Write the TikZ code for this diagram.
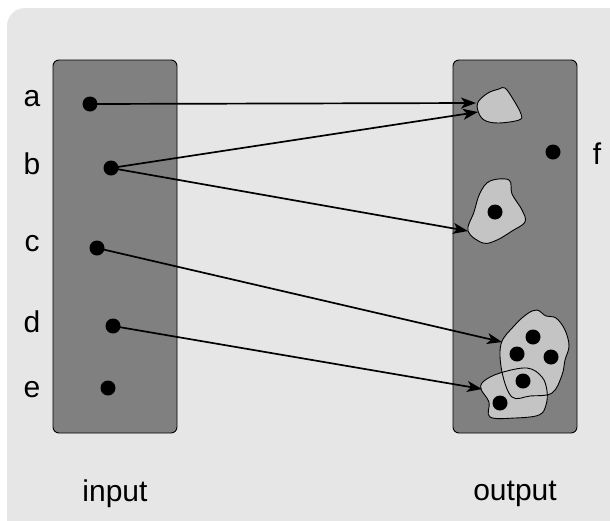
\documentclass[tikz,border=0pt]{standalone}
\usepackage{fontspec}
\setmainfont{Liberation Sans}
\usetikzlibrary{arrows.meta}
\definecolor{bgcol}{HTML}{E6E6E6}
\definecolor{setcol}{HTML}{808080}
\definecolor{blobcol}{HTML}{C4C4C4}
\begin{document}
\begin{tikzpicture}[x=1pt,y=-1pt,
  setbox/.style={draw=black,fill=setcol,rounded corners=6pt,line width=0.9pt},
  dotpt/.style={circle,fill=black,inner sep=0pt,minimum size=15pt},
  lbl/.style={font=\fontsize{30}{36}\selectfont,inner sep=0pt},
  conn/.style={line width=1.7pt,-{Stealth[length=15pt,width=11pt,inset=4pt]}},
  blobfill/.style={fill=blobcol},
  blobline/.style={draw=black,line width=0.9pt}]
\useasboundingbox (0,0) rectangle (610,520);
\fill[bgcol,rounded corners=18pt] (7,8) rectangle (640,560);
% set boxes
\draw[setbox] (53,60) rectangle (177,433);
\draw[setbox] (453,60) rectangle (577,433);
% blobs
\def\blobA{plot[smooth cycle,tension=0.6] coordinates {(478,102) (488,93) (499,89) (505,88) (513,99) (521,114) (519,120) (498,123) (484,120) (478,111)}}
\def\blobB{plot[smooth cycle,tension=0.6] coordinates {(490,181) (509,180) (512,194) (522,210) (525,222) (512,231) (497,240) (483,243) (468,231) (474,212) (480,193)}}
\def\blobC{plot[smooth cycle,tension=0.6] coordinates {(537,310) (546,316) (556,318) (565,330) (569,346) (565,360) (562,375) (552,393) (530,396) (512,397) (502,372) (501,344) (514,326) (527,314)}}
\def\blobD{plot[smooth cycle,tension=0.6] coordinates {(527,368) (542,377) (547,391) (546,405) (539,415) (515,418) (490,417) (489,402) (481,389) (484,381) (500,373)}}
\fill[blobfill] \blobA;
\draw[blobline] \blobA;
\fill[blobfill] \blobB;
\draw[blobline] \blobB;
\fill[blobfill] \blobC;
\fill[blobfill] \blobD;
\draw[blobline] \blobC;
\draw[blobline] \blobD;
% input points
\node[dotpt] (a) at (90,104) {};
\node[dotpt] (b) at (111,168) {};
\node[dotpt] (c) at (97,248) {};
\node[dotpt] (d) at (113,326) {};
\node[dotpt] (e) at (108,388) {};
% output points
\node[dotpt] (f) at (553,152) {};
\node[dotpt] (p1) at (495,212) {};
\node[dotpt] (p2) at (533,337) {};
\node[dotpt] (p3) at (517,354) {};
\node[dotpt] (p4) at (551,357) {};
\node[dotpt] (p5) at (523,381) {};
\node[dotpt] (p6) at (500,403) {};
% arrow targets
\coordinate (tA1) at (476,103);
\coordinate (tA2) at (478,112);
\coordinate (tB) at (468,231);
\coordinate (tC) at (502,342);
\coordinate (tD) at (482,389);
\draw[conn] (a.center) -- (tA1);
\draw[conn] (b.center) -- (tA2);
\draw[conn] (b.center) -- (tB);
\draw[conn] (c.center) -- (tC);
\draw[conn] (d.center) -- (tD);
% labels
\node[lbl] (la) at (32,99) {a};
\node[lbl] (lb) at (32,164) {b};
\node[lbl] (lc) at (32,244) {c};
\node[lbl] (ld) at (32,322) {d};
\node[lbl] (le) at (32,390) {e};
\node[lbl] (lf) at (597,154) {f};
\node[lbl] (lin) at (115,494) {input};
\node[lbl] (lout) at (515,494) {output};
\end{tikzpicture}
\end{document}
